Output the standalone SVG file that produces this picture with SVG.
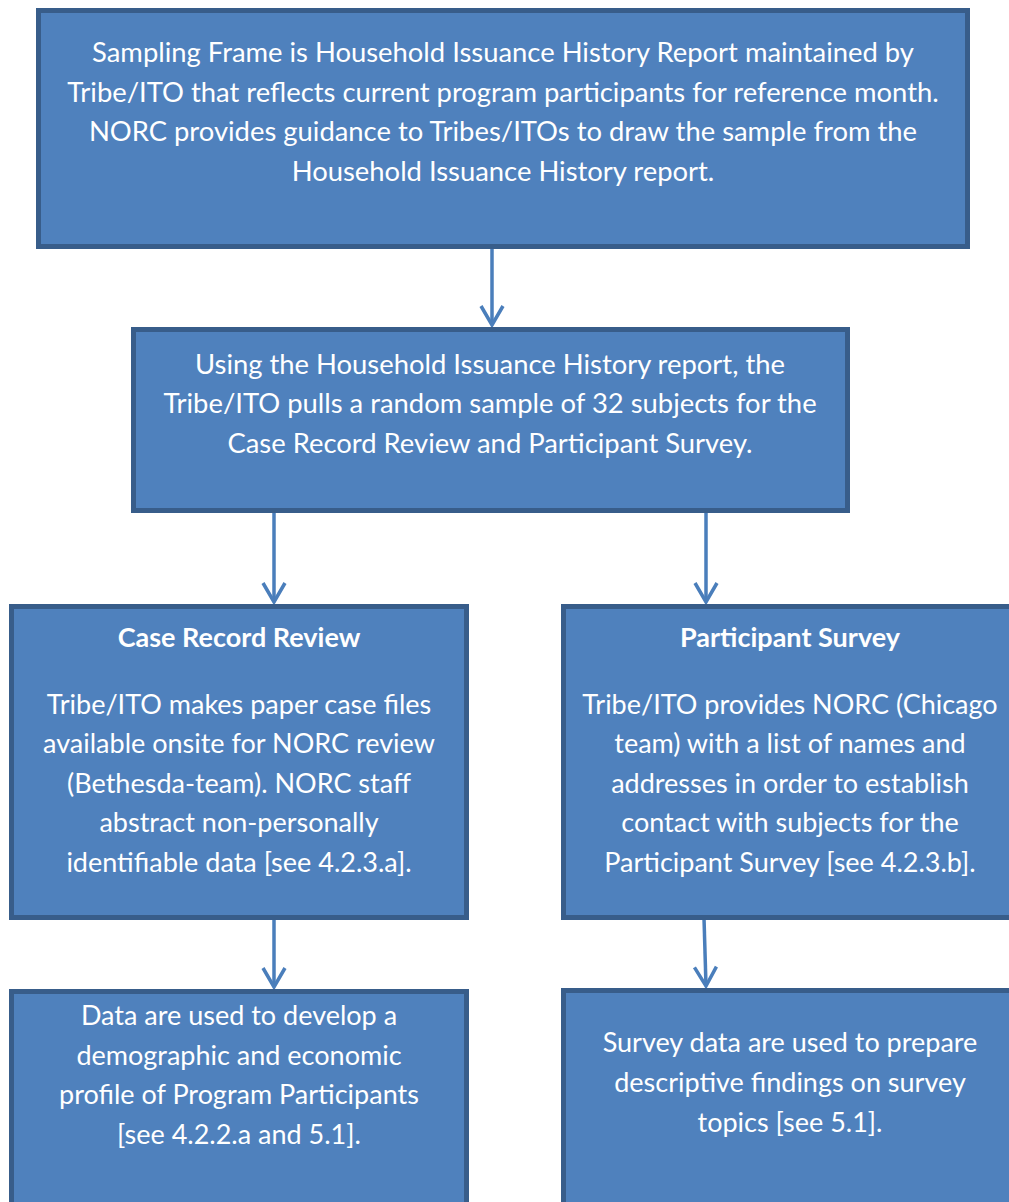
<svg xmlns="http://www.w3.org/2000/svg" width="1009" height="1202" viewBox="0 0 1009 1202">
<style>
.box{fill:#4F81BD;stroke:#385D8A;stroke-width:5}
.t{font-family:Lato,"Open Sans",sans-serif;font-size:27px;fill:#FFFFFF;text-anchor:middle}
.w{font-size:27.4px}
.b{font-weight:bold}
.c{stroke:#4A7EBB;stroke-width:3.5;fill:none}
</style>
<defs>
<marker id="ah" markerUnits="userSpaceOnUse" viewBox="-24 -14 26 28" refX="0" refY="0" markerWidth="26" markerHeight="28" orient="auto">
<path d="M-19,-11 L0,0 L-19,11" fill="none" stroke="#4A7EBB" stroke-width="3.5" stroke-linejoin="miter"/>
</marker>
</defs>
<g id="connectors">
<line class="c" x1="492" y1="249" x2="492" y2="325" marker-end="url(#ah)"/>
<line class="c" x1="274" y1="513" x2="274" y2="602" marker-end="url(#ah)"/>
<line class="c" x1="706" y1="513" x2="706" y2="602" marker-end="url(#ah)"/>
<line class="c" x1="274" y1="920" x2="274" y2="987" marker-end="url(#ah)"/>
<line class="c" x1="704" y1="918" x2="706" y2="986" marker-end="url(#ah)"/>
</g>
<g id="node1">
<rect class="box" x="38.5" y="10.5" width="929" height="236"/>
<text class="t w" x="503" y="62">Sampling Frame is Household Issuance History Report maintained by</text>
<text class="t w" x="503" y="102">Tribe/ITO that reflects current program participants for reference month.</text>
<text class="t w" x="503" y="141">NORC provides guidance to Tribes/ITOs to draw the sample from the</text>
<text class="t w" x="503" y="181">Household Issuance History report.</text>
</g>
<g id="node2">
<rect class="box" x="133.5" y="329.5" width="714" height="181"/>
<text class="t w" x="490" y="374">Using the Household Issuance History report, the</text>
<text class="t w" x="490" y="413">Tribe/ITO pulls a random sample of 32 subjects for the</text>
<text class="t w" x="490" y="453">Case Record Review and Participant Survey.</text>
</g>
<g id="node3">
<rect class="box" x="11.5" y="606.5" width="455" height="311"/>
<text class="t b" x="239" y="647">Case Record Review</text>
<text class="t" x="239" y="714">Tribe/ITO makes paper case files</text>
<text class="t" x="239" y="753">available onsite for NORC review</text>
<text class="t" x="239" y="793">(Bethesda-team). NORC staff</text>
<text class="t" x="239" y="832">abstract non-personally</text>
<text class="t" x="239" y="872">identifiable data [see 4.2.3.a].</text>
</g>
<g id="node4">
<rect class="box" x="563.5" y="606.5" width="455" height="311"/>
<text class="t b" x="790" y="647">Participant Survey</text>
<text class="t" x="790" y="714">Tribe/ITO provides NORC (Chicago</text>
<text class="t" x="790" y="753">team) with a list of names and</text>
<text class="t" x="790" y="793">addresses in order to establish</text>
<text class="t" x="790" y="832">contact with subjects for the</text>
<text class="t" x="790" y="872">Participant Survey [see 4.2.3.b].</text>
</g>
<g id="node5">
<rect class="box" x="11.5" y="991.5" width="455" height="240"/>
<text class="t" x="239" y="1025">Data are used to develop a</text>
<text class="t" x="239" y="1065">demographic and economic</text>
<text class="t" x="239" y="1104">profile of Program Participants</text>
<text class="t" x="239" y="1144">[see 4.2.2.a and 5.1].</text>
</g>
<g id="node6">
<rect class="box" x="563.5" y="990.5" width="455" height="240"/>
<text class="t" x="790" y="1052">Survey data are used to prepare</text>
<text class="t" x="790" y="1092">descriptive findings on survey</text>
<text class="t" x="790" y="1132">topics [see 5.1].</text>
</g>
</svg>
